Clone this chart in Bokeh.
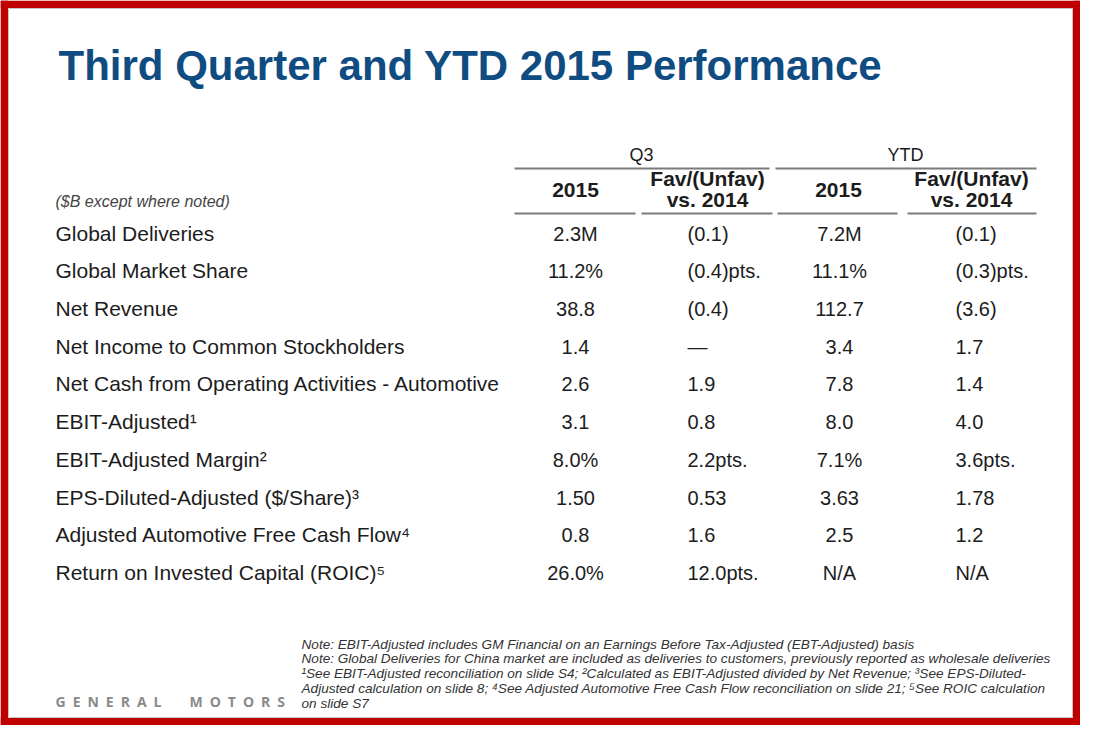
from bokeh.plotting import figure
from bokeh.models import ColumnDataSource, Range1d
from bokeh.core.properties import value
from bokeh.embed import file_html
from bokeh.resources import INLINE

# ---------------- data ----------------
title = "Third Quarter and YTD 2015 Performance"
unit_note = "($B except where noted)"
group_labels = ["Q3", "YTD"]
sub_header_top = ["2015", "Fav/(Unfav)", "2015", "Fav/(Unfav)"]
sub_header_bottom = ["", "vs. 2014", "", "vs. 2014"]

row_labels = [
    "Global Deliveries",
    "Global Market Share",
    "Net Revenue",
    "Net Income to Common Stockholders",
    "Net Cash from Operating Activities - Automotive",
    "EBIT-Adjusted\u00b9",
    "EBIT-Adjusted Margin\u00b2",
    "EPS-Diluted-Adjusted ($/Share)\u00b3",
    "Adjusted Automotive Free Cash Flow\u2074",
    "Return on Invested Capital (ROIC)\u2075",
]
q3_2015 = ["2.3M", "11.2%", "38.8", "1.4", "2.6", "3.1", "8.0%", "1.50", "0.8", "26.0%"]
q3_fav = ["(0.1)", "(0.4)pts.", "(0.4)", "\u2014", "1.9", "0.8", "2.2pts.", "0.53", "1.6", "12.0pts."]
ytd_2015 = ["7.2M", "11.1%", "112.7", "3.4", "7.8", "8.0", "7.1%", "3.63", "2.5", "N/A"]
ytd_fav = ["(0.1)", "(0.3)pts.", "(3.6)", "1.7", "1.4", "4.0", "3.6pts.", "1.78", "1.2", "N/A"]

footnotes = [
    "Note: EBIT-Adjusted includes GM Financial on an Earnings Before Tax-Adjusted (EBT-Adjusted) basis",
    "Note: Global Deliveries for China market are included as deliveries to customers, previously reported as wholesale deliveries",
    "\u00b9See EBIT-Adjusted reconciliation on slide S4; \u00b2Calculated as EBIT-Adjusted divided by Net Revenue; \u00b3See EPS-Diluted-",
    "Adjusted calculation on slide 8; \u2074See Adjusted Automotive Free Cash Flow reconciliation on slide 21; \u2075See ROIC calculation",
    "on slide S7",
]
brand = "GENERAL MOTORS"

# ---------------- layout / style ----------------
FONT = value("Liberation Sans")
W, H = 1080, 725
RED = "#C00000"
BLUE = "#0F4C81"
INK = "#1c1c1c"
RULE = "#7a7a7a"


def bl(y, size):
    """convert a wanted baseline position to the glyph's anchor y"""
    return y - 0.4 * size


TITLE_SIZE = 42
LABEL_X = 55
ROW_Y0 = 241          # baseline of first row
ROW_DY = 37.72
COL_X = [575, 687, 839, 955]
COL_ALIGN = ["center", "left", "center", "left"]
HEAD_X = [575, 707, 838, 971]
GROUP_X = [641, 905]
GROUP_SPAN = [(514, 769), (775, 1036)]
SUB_SPAN = [(514, 635), (641, 772), (777, 897), (907, 1036)]
GROUP_RULE_Y = 168
SUB_RULE_Y = 213

NOTE_X = 301
NOTE_Y0 = 649
NOTE_DY = 14.9
NOTE_SIZE = 13.6

p = figure(width=W, height=H,
           x_range=Range1d(0, W), y_range=Range1d(H, 0),
           x_axis_type=None, y_axis_type=None,
           output_backend="svg", toolbar_location=None, min_border=0)
p.outline_line_color = None
p.background_fill_color = "white"
p.border_fill_color = "white"

# frame
B = 7.5
p.quad(left=[0, 0, W - B, 0], right=[B, W, W, W],
       bottom=[H, B, H, H], top=[0, 0, 0, H - B],
       fill_color=RED, line_color=None)
p.quad(left=[B + 0.5], right=[W - B - 0.5], top=[B + 0.5], bottom=[H - B - 0.5],
       fill_color=None, line_color="#c4c4c4", line_width=1)

# title
p.text(x=[58], y=[bl(82, TITLE_SIZE)], text=[title],
       text_font=FONT, text_font_style="bold", text_font_size=f"{TITLE_SIZE}px",
       text_color=BLUE, text_baseline="alphabetic", text_align="left")

# group headers
p.text(x=GROUP_X, y=[bl(162, 18)] * 2, text=group_labels, text_font=FONT,
       text_font_size="18px", text_color=INK, text_align="center",
       text_baseline="alphabetic")
p.segment(x0=[s[0] for s in GROUP_SPAN], x1=[s[1] for s in GROUP_SPAN],
          y0=[GROUP_RULE_Y] * 2, y1=[GROUP_RULE_Y] * 2,
          line_color=RULE, line_width=2)

# sub headers
HS = 21
single = [i for i, b in enumerate(sub_header_bottom) if not b]
double = [i for i, b in enumerate(sub_header_bottom) if b]
p.text(x=[HEAD_X[i] for i in single], y=[bl(198, HS)] * len(single),
       text=[sub_header_top[i] for i in single], text_font=FONT,
       text_font_style="bold", text_font_size=f"{HS}px", text_color=INK,
       text_align="center", text_baseline="alphabetic")
p.text(x=[HEAD_X[i] for i in double], y=[bl(186, HS)] * len(double),
       text=[sub_header_top[i] for i in double], text_font=FONT,
       text_font_style="bold", text_font_size=f"{HS}px", text_color=INK,
       text_align="center", text_baseline="alphabetic")
p.text(x=[HEAD_X[i] for i in double], y=[bl(207, HS)] * len(double),
       text=[sub_header_bottom[i] for i in double], text_font=FONT,
       text_font_style="bold", text_font_size=f"{HS}px", text_color=INK,
       text_align="center", text_baseline="alphabetic")
p.segment(x0=[s[0] for s in SUB_SPAN], x1=[s[1] for s in SUB_SPAN],
          y0=[SUB_RULE_Y] * 4, y1=[SUB_RULE_Y] * 4,
          line_color=RULE, line_width=2)

p.text(x=[LABEL_X], y=[bl(207, 16)], text=[unit_note], text_font=FONT,
       text_font_style="italic", text_font_size="16px", text_color="#444444",
       text_baseline="alphabetic")

# rows
n = len(row_labels)
src = ColumnDataSource(dict(
    y_lab=[bl(ROW_Y0 + i * ROW_DY, 21) for i in range(n)],
    y_val=[bl(ROW_Y0 + i * ROW_DY, 20) for i in range(n)],
    label=row_labels, c0=q3_2015, c1=q3_fav, c2=ytd_2015, c3=ytd_fav))
p.text(x=LABEL_X, y="y_lab", text="label", source=src, text_font=FONT,
       text_font_size="21px", text_color=INK, text_baseline="alphabetic")
for k, col in enumerate(["c0", "c1", "c2", "c3"]):
    p.text(x=COL_X[k], y="y_val", text=col, source=src, text_font=FONT,
           text_font_size="20px", text_color=INK, text_align=COL_ALIGN[k],
           text_baseline="alphabetic")

# footnotes
p.text(x=[NOTE_X] * len(footnotes),
       y=[bl(NOTE_Y0 + i * NOTE_DY, NOTE_SIZE) for i in range(len(footnotes))],
       text=footnotes, text_font=FONT, text_font_style="italic",
       text_font_size=f"{NOTE_SIZE}px", text_color="#333333", text_baseline="alphabetic")

# brand (letter-spaced with en spaces)
spaced = "\u2003\u2002\u2002".join("\u2002".join(w) for w in brand.split(" "))
p.text(x=[55], y=[bl(707, 14)], text=[spaced], text_font=value("Open Sans"),
       text_font_style="bold", text_font_size="14px", text_color="#8a8a8a",
       text_align="left", text_baseline="alphabetic")

open("out.html", "w").write(file_html(p, INLINE))
